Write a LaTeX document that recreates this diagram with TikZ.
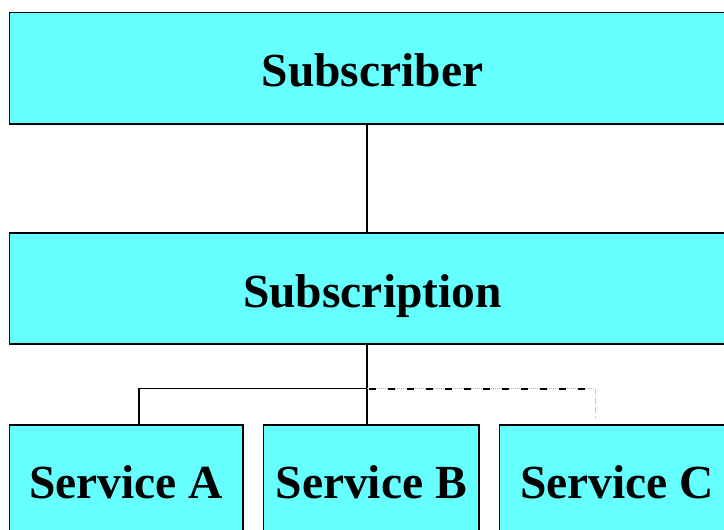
\documentclass[tikz,border=0pt]{standalone}
\usepackage{fontspec}
\setmainfont{Liberation Serif}
\definecolor{boxcyan}{HTML}{66FFFF}
\begin{document}
\begin{tikzpicture}[x=1pt,y=-1pt,
  box/.style={draw=black,line width=1.8pt,fill=boxcyan,inner sep=0pt,
    text height=37pt,text depth=0pt,
    font=\fontsize{47.5}{52}\selectfont\bfseries},
  link/.style={draw=black,line width=1.5pt},
  optlink/.style={draw=black,line width=2pt,dash pattern=on 7pt off 12pt},
  optfaint/.style={draw=gray!60,line width=1pt,densely dotted},
  optstub/.style={draw=gray!45,line width=1pt,dash pattern=on 6pt off 3pt}]
\useasboundingbox (0,0) rectangle (724,530);
\clip (0,0) rectangle (724,530);
\fill[white] (0,0) rectangle (724,530);

% boxes
\node[box,minimum width=726pt,minimum height=111.5pt] (Subscriber) at (372.5,68.25) {Subscriber};
\node[box,minimum width=726pt,minimum height=111pt] (Subscription) at (372.5,288.5) {Subscription};
\node[box,minimum width=233.5pt,minimum height=110pt] (ServiceA) at (126.25,480) {Service A};
\node[box,minimum width=215.5pt,minimum height=110pt] (ServiceB) at (371.25,480) {Service B};
\node[box,minimum width=235.5pt,minimum height=110pt] (ServiceC) at (617.25,480) {Service C};

% branching points
\coordinate (fork) at (367,388.5);
\coordinate (branchA) at (139,388.5);
\coordinate (branchC) at (595,388.5);
\coordinate (stubC) at (595,418);

% connectors
\draw[link] (Subscriber.south -| fork) -- (Subscription.north -| fork);
\draw[link] (Subscription.south -| fork) -- (ServiceB.north -| fork);
\draw[link] (fork) -- (branchA) -- (ServiceA.north -| branchA);
\draw[optfaint] (fork) -- (branchC);
\draw[optlink] ([xshift=2pt]fork) -- (branchC);
\draw[optstub] (branchC) -- (stubC);
\end{tikzpicture}
\end{document}
